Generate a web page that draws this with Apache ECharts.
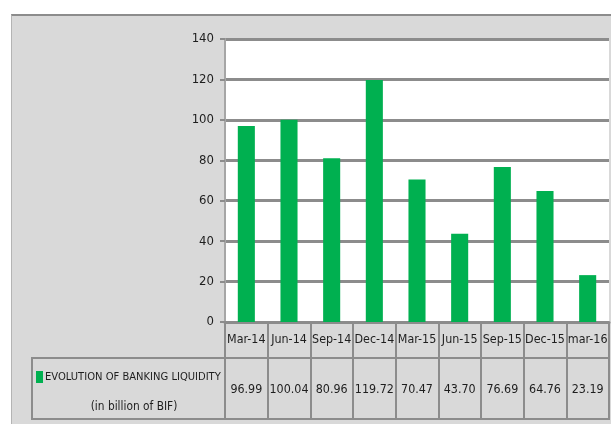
<!DOCTYPE html>
<html>
<head>
<meta charset="utf-8">
<script src="https://cdn.jsdelivr.net/npm/echarts@6/dist/echarts.min.js"></script>
<style>
  html, body { margin: 0; padding: 0; background: #fff; }
  #wrap { position: relative; width: 611px; height: 424px; overflow: hidden; }
  #box {
    position: absolute; left: 11px; top: 14px; width: 620px; height: 420px;
    background: #d9d9d9; border-top: 2px solid #8c8c8c; border-left: 1px solid #b4b4b4;
  }
  #chart { position: absolute; left: 0; top: 0; width: 611px; height: 424px; }
</style>
</head>
<body>
<div id="wrap">
  <div id="box"></div>
  <div id="chart"></div>
</div>
<script>
// quarters shown on the x axis
const quarters = ["Mar-14", "Jun-14", "Sep-14", "Dec-14", "Mar-15", "Jun-15", "Sep-15", "Dec-15", "mar-16"];
// banking liquidity, billion BIF
const liquidity = [96.99, 100.04, 80.96, 119.72, 70.47, 43.70, 76.69, 64.76, 23.19];
const seriesName = "EVOLUTION OF BANKING LIQUIDITY";
const seriesUnit = "(in billion of BIF)";

const font = "'Liberation Sans Narrow', 'DejaVu Sans Condensed', sans-serif";
const lineGray = "#8c8c8c";
const txt = "#1e1e1e";
const fs = 12.4;

const myChart = echarts.init(document.getElementById("chart"));

const option = {
  backgroundColor: "transparent",
  animation: false,
  textStyle: { fontFamily: font },
  legend: {
    left: 36,
    top: 371,
    padding: 0,
    itemWidth: 7,
    itemHeight: 12,
    itemGap: 0,
    icon: "rect",
    textStyle: { fontFamily: font, fontSize: 11.1, color: txt, padding: [0, 0, 0, -3] },
    data: [seriesName],
  },
  grid: [
    {
      // plot area
      left: 225, right: 2, top: 39, bottom: 102,
      show: true, backgroundColor: "#fff", borderWidth: 0,
    },
    {
      // value row of the data table
      left: 225, right: 2, top: 358, bottom: 5,
      show: true, backgroundColor: "transparent", borderColor: lineGray, borderWidth: 2,
    },
  ],
  xAxis: [
    {
      gridIndex: 0,
      type: "category",
      data: quarters,
      axisLine: { lineStyle: { color: lineGray, width: 3 } },
      axisTick: { show: true, length: 36, interval: 0, lineStyle: { color: lineGray, width: 2 } },
      axisLabel: { interval: 0, margin: 12, fontSize: fs, color: txt, fontFamily: font },
    },
    {
      gridIndex: 1,
      type: "category",
      position: "top",
      data: liquidity.map((v) => v.toFixed(2)),
      axisLine: { show: false },
      axisTick: { show: false },
      splitLine: { show: true, interval: 0, lineStyle: { color: lineGray, width: 2 } },
      axisLabel: { inside: true, interval: 0, margin: 26, fontSize: fs, color: txt, fontFamily: font },
    },
  ],
  yAxis: [
    {
      gridIndex: 0,
      type: "value",
      min: 0,
      max: 140,
      interval: 20,
      axisLine: { show: true, lineStyle: { color: "#a6a6a6", width: 2 } },
      axisTick: { show: true, length: 5, lineStyle: { color: lineGray, width: 2 } },
      splitLine: { lineStyle: { color: lineGray, width: 3 } },
      axisLabel: { margin: 11, fontSize: 13, color: txt, fontFamily: font },
    },
    { gridIndex: 1, type: "value", show: false },
  ],
  graphic: [
    {
      // legend cell of the data table
      type: "rect",
      shape: { x: 32, y: 358, width: 193, height: 61 },
      style: { fill: "transparent", stroke: lineGray, lineWidth: 2 },
    },
    {
      type: "text",
      x: 134,
      y: 407,
      style: { text: seriesUnit, fill: txt, font: "11.8px " + font, textAlign: "center", textVerticalAlign: "middle" },
    },
  ],
  series: [
    {
      name: seriesName,
      type: "bar",
      xAxisIndex: 0,
      yAxisIndex: 0,
      barWidth: "40%",
      itemStyle: { color: "#00b050" },
      data: liquidity,
    },
  ],
};

myChart.setOption(option);
window.addEventListener("resize", function () {
  myChart.resize();
});
</script>
</body>
</html>
